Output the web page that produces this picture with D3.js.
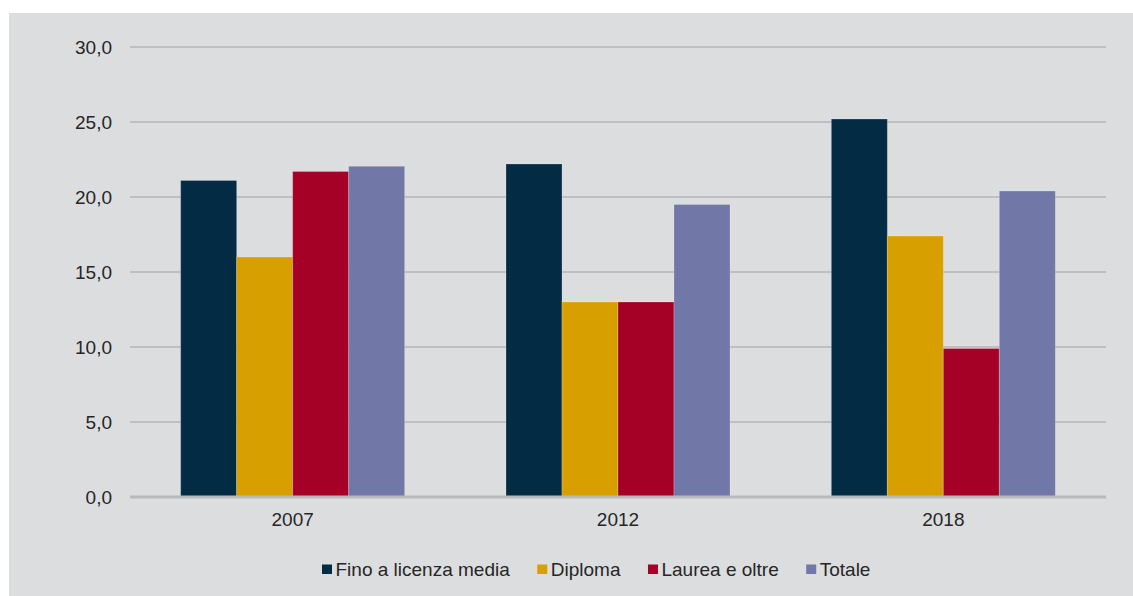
<!DOCTYPE html>
<html>
<head>
<meta charset="utf-8">
<script src="https://cdn.jsdelivr.net/npm/d3@7"></script>
<style>
  html, body { margin: 0; padding: 0; background: #ffffff; }
  svg { display: block; }
  text { font-family: "Liberation Sans", Arial, sans-serif; fill: #262626; }
</style>
</head>
<body>
<svg id="chart" width="1133" height="596"></svg>
<script>
// Data
const years = ["2007", "2012", "2018"];
const seriesNames = ["Fino a licenza media", "Diploma", "Laurea e oltre", "Totale"];
const finoLicenzaMedia = [21.1, 22.2, 25.2];
const diploma = [16.0, 13.0, 17.4];
const laureaOltre = [21.7, 13.0, 9.9];
const totale = [22.05, 19.5, 20.4];
const seriesColors = ["#032b43", "#d7a000", "#a50026", "#7177a6"];
const yTicks = [0, 5, 10, 15, 20, 25, 30];

const seriesValues = [finoLicenzaMedia, diploma, laureaOltre, totale];

const svg = d3.select("#chart");

// Panel background
svg.append("rect")
  .attr("x", 9).attr("y", 13)
  .attr("width", 1133 - 9).attr("height", 596 - 13)
  .attr("fill", "#dcdddf");

const plot = { left: 130, right: 1106, top: 47, bottom: 497 };

const y = d3.scaleLinear().domain([0, 30]).range([plot.bottom, plot.top]);
const x0 = d3.scaleBand().domain(years).range([plot.left, plot.right])
  .paddingInner(0.3115).paddingOuter(0.3115 / 2);
const x1 = d3.scaleBand().domain(seriesNames).range([0, x0.bandwidth()]).padding(0);

const fmt = v => d3.format(".1f")(v).replace(".", ",");

// Gridlines
svg.append("g")
  .selectAll("line")
  .data(yTicks.filter(t => t !== 0))
  .join("line")
  .attr("x1", plot.left).attr("x2", plot.right)
  .attr("y1", d => y(d)).attr("y2", d => y(d))
  .attr("stroke", "#bebfc1").attr("stroke-width", 2);

// Y axis labels
const yAxis = d3.axisLeft(y).tickValues(yTicks).tickFormat(fmt).tickSize(0).tickPadding(18);
const gy = svg.append("g").attr("transform", `translate(${plot.left},0)`).call(yAxis);
gy.select(".domain").remove();
gy.selectAll("text")
  .style("font-family", '"Liberation Sans", Arial, sans-serif')
  .style("font-size", "19px").attr("fill", "#262626");

// Bars
const groups = svg.append("g")
  .selectAll("g")
  .data(years.map((yr, i) => ({ yr, vals: seriesNames.map((s, k) => ({ s, v: seriesValues[k][i], c: seriesColors[k] })) })))
  .join("g")
  .attr("transform", d => `translate(${x0(d.yr)},0)`);

groups.selectAll("rect")
  .data(d => d.vals)
  .join("rect")
  .attr("x", d => x1(d.s))
  .attr("y", d => y(d.v))
  .attr("width", x1.bandwidth())
  .attr("height", d => y(0) - y(d.v))
  .attr("fill", d => d.c)
  .attr("stroke", "rgba(255,255,255,0.22)")
  .attr("stroke-width", 1);

// Baseline
svg.append("line")
  .attr("x1", plot.left).attr("x2", plot.right)
  .attr("y1", y(0)).attr("y2", y(0))
  .attr("stroke", "#b9babc").attr("stroke-width", 3);

// X axis labels
const xAxis = d3.axisBottom(x0).tickSize(0).tickPadding(16);
const gx = svg.append("g").attr("transform", `translate(0,${plot.bottom})`).call(xAxis);
gx.select(".domain").remove();
gx.selectAll("text")
  .style("font-family", '"Liberation Sans", Arial, sans-serif')
  .style("font-size", "19px").attr("fill", "#262626");

// Legend
const legend = svg.append("g").attr("transform", "translate(322,569)");
let cx = 0;
seriesNames.forEach((name, k) => {
  const item = legend.append("g").attr("transform", `translate(${cx},0)`);
  item.append("rect")
    .attr("x", 0).attr("y", -4.5).attr("width", 10).attr("height", 9.5)
    .attr("fill", seriesColors[k]);
  const t = item.append("text")
    .attr("x", 13.5).attr("y", 0).attr("dy", "0.35em")
    .style("font-size", "19px")
    .text(name);
  const w = t.node().getComputedTextLength();
  cx += 13.5 + w + 27.5;
});
</script>
</body>
</html>
